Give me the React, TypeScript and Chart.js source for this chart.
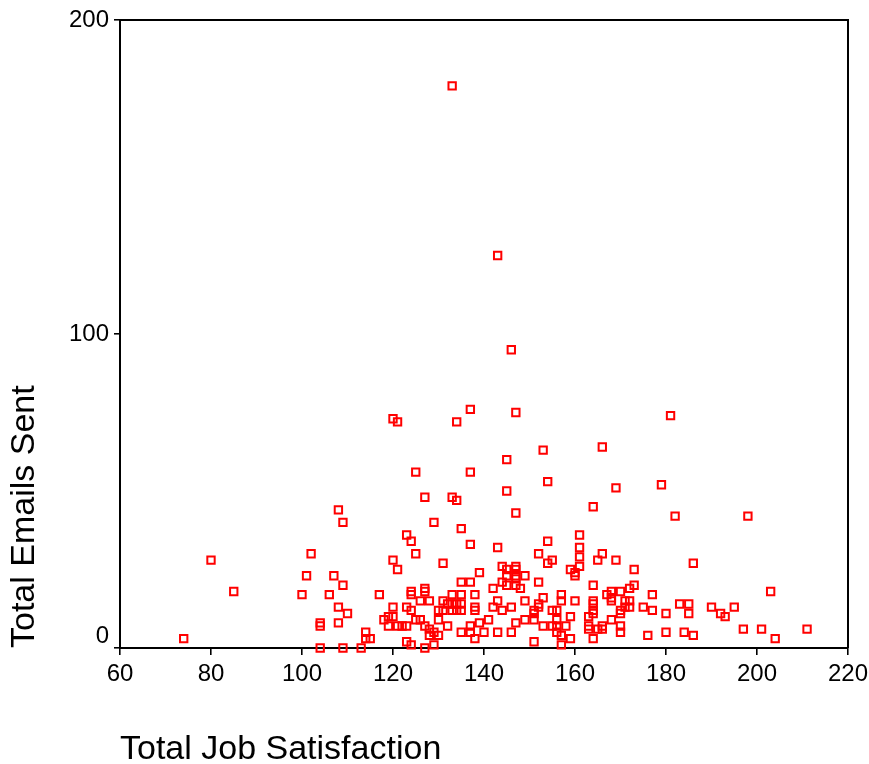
import React, { useEffect, useRef } from "react";
import { Chart, registerables } from "chart.js";

Chart.register(...registerables);

// Total Job Satisfaction (x) and Total Emails Sent (y), one entry per respondent
const jobSatisfaction: number[] = [
  133, 143, 146, 120, 121, 137, 134, 147, 181, 125, 137, 145, 153, 166, 154, 145, 169, 179,
  147, 108, 127, 133, 134, 164, 109, 129, 182, 198, 135, 123, 124, 137, 161, 143, 154, 125,
  74, 80, 85,
  102, 101, 107, 109, 100, 106, 117, 120, 121, 108, 110, 108, 104, 104, 104, 109, 113, 114,
  114, 115, 118, 119, 120, 120, 119, 121, 122, 123, 123, 124, 123,
  131, 139, 144, 145, 145, 147, 147, 147, 147, 147, 148, 149, 144, 145, 142, 135, 137, 127,
  127, 124, 124, 133, 135, 138, 126, 128, 131, 132, 133, 134, 135, 135, 134, 133, 131, 130,
  130, 138, 138, 143, 142, 144, 146, 141, 139, 147, 137, 125, 126, 127, 128, 129, 128, 130,
  132, 135, 137, 138, 140, 143, 146, 124, 127, 129,
  161, 161, 161, 152, 155, 154, 166, 165, 169, 159, 160, 160, 152, 164, 153, 157, 157, 149,
  152, 152, 160, 164, 164, 164, 164, 167, 168, 168, 168, 170, 171, 171, 151, 151, 151, 155,
  156, 156, 156, 156, 157, 159, 149, 153, 155, 158, 163, 163, 163, 166, 165, 166, 168, 170,
  170, 170, 159, 164, 151, 157,
  173, 186, 172, 173, 177, 172, 172, 170, 175, 177, 180, 183, 185, 185, 190, 192, 193, 195,
  176, 180, 184, 186,
  203, 197, 201, 204, 211,
];

const emailsSent: number[] = [
  179, 125, 95, 73, 72, 76, 72, 75, 74, 56, 56, 60, 63, 64, 53, 50, 51, 52,
  43, 44, 48, 48, 47, 45, 40, 40, 42, 42, 38, 36, 34, 33, 36, 32, 34, 30,
  3, 28, 18,
  30, 23, 23, 20, 17, 17, 17, 28, 25, 13, 11, 8, 7, 8, 0, 0, 0, 5,
  3, 3, 9, 10, 13, 10, 7, 7, 7, 7, 13, 12, 2,
  27, 24, 26, 25, 23, 26, 25, 23, 22, 20, 19, 23, 21, 20, 19, 21, 21, 19,
  18, 18, 17, 17, 17, 17, 15, 15, 15, 14, 14, 14, 14, 12, 12, 12, 12, 12,
  9, 13, 12, 15, 13, 12, 13, 9, 8, 8, 7, 9, 9, 7, 6, 5, 4, 4,
  7, 5, 5, 3, 5, 5, 5, 1, 0, 1,
  32, 29, 26, 30, 28, 27, 30, 28, 28, 25, 24, 23, 21, 20, 16, 17, 15, 15,
  14, 13, 15, 15, 14, 12, 11, 17, 18, 16, 15, 18, 15, 13, 12, 11, 9, 12,
  12, 9, 7, 5, 4, 10, 9, 7, 7, 7, 10, 7, 6, 7, 6, 6, 9, 12,
  7, 5, 3, 3, 2, 1,
  25, 27, 19, 20, 17, 15, 13, 11, 13, 12, 11, 14, 14, 11, 13, 11, 10, 13,
  4, 5, 5, 4,
  18, 6, 6, 3, 6,
];

const xTickMin = 60;
const xTickMax = 220;
const xTickStep = 20;
const yTickMin = 0;
const yTickMax = 200;
const yTickStep = 100;

const xTitle = "Total Job Satisfaction";
const yTitle = "Total Emails Sent";

const FONT = "'Liberation Sans', Arial, Helvetica, sans-serif";

const frameBox = {
  id: "frameBox",
  afterDatasetsDraw(chart: any) {
    const { ctx, chartArea } = chart;
    ctx.save();
    ctx.strokeStyle = "#000";
    ctx.lineWidth = 2;
    ctx.beginPath();
    ctx.moveTo(chartArea.left, chartArea.top);
    ctx.lineTo(chartArea.right, chartArea.top);
    ctx.lineTo(chartArea.right, chartArea.bottom);
    ctx.stroke();
    ctx.restore();
  },
};

export default function App() {
  const canvasRef = useRef<HTMLCanvasElement | null>(null);

  useEffect(() => {
    if (!canvasRef.current) return;
    const points = jobSatisfaction.map((x, i) => ({ x, y: emailsSent[i] }));
    const chart = new Chart(canvasRef.current, {
      type: "scatter",
      data: {
        datasets: [
          {
            data: points,
            pointStyle: "rect",
            pointRadius: 5.2,
            pointHoverRadius: 5.2,
            borderColor: "#ff0000",
            backgroundColor: "rgba(0,0,0,0)",
            pointBorderWidth: 2,
            clip: false as any,
          },
        ],
      },
      options: {
        animation: false,
        responsive: false,
        events: [],
        layout: { padding: { top: 20, right: 21, left: 0, bottom: 0 } },
        plugins: {
          legend: { display: false },
          tooltip: { enabled: false },
          title: { display: false },
        },
        scales: {
          x: {
            type: "linear",
            min: xTickMin,
            max: xTickMax,
            afterFit(scale: any) {
              scale.height = 116;
              scale.paddingLeft = 0;
              scale.paddingRight = 0;
            },
            ticks: {
              stepSize: xTickStep,
              color: "#000",
              padding: 5,
              font: { family: FONT, size: 24 },
              maxRotation: 0,
            },
            grid: {
              display: true,
              drawOnChartArea: false,
              drawTicks: true,
              tickLength: 7,
              color: "#000",
              lineWidth: 1.6,
            },
            border: { display: true, color: "#000", width: 2 },
            title: {
              display: true,
              text: xTitle,
              align: "start",
              color: "#000",
              padding: 0,
              font: { family: FONT, size: 34, lineHeight: 0.85 },
            },
          },
          y: {
            type: "linear",
            min: yTickMin,
            max: yTickMax,
            afterFit(scale: any) {
              scale.width = 120;
              scale.paddingTop = 0;
              scale.paddingBottom = 0;
            },
            ticks: {
              stepSize: yTickStep,
              color: "#000",
              padding: 5,
              font: { family: FONT, size: 24, lineHeight: 1 },
              callback: (v: any) => (Number(v) === 0 ? ["0", ""] : String(v)),
            },
            grid: {
              display: true,
              drawOnChartArea: false,
              drawTicks: true,
              tickLength: 6,
              color: "#000",
              lineWidth: 1.6,
            },
            border: { display: true, color: "#000", width: 2 },
            title: {
              display: true,
              text: yTitle,
              align: "start",
              color: "#000",
              padding: { top: 8, bottom: 0 },
              font: { family: FONT, size: 34, lineHeight: 1 },
            },
          },
        },
      },
      plugins: [frameBox],
    });
    return () => chart.destroy();
  }, []);

  return (
    <div style={{ position: "absolute", left: 0, top: 0, width: 869, height: 764, background: "#fff" }}>
      <canvas ref={canvasRef} width={869} height={764} style={{ display: "block" }} />
    </div>
  );
}
